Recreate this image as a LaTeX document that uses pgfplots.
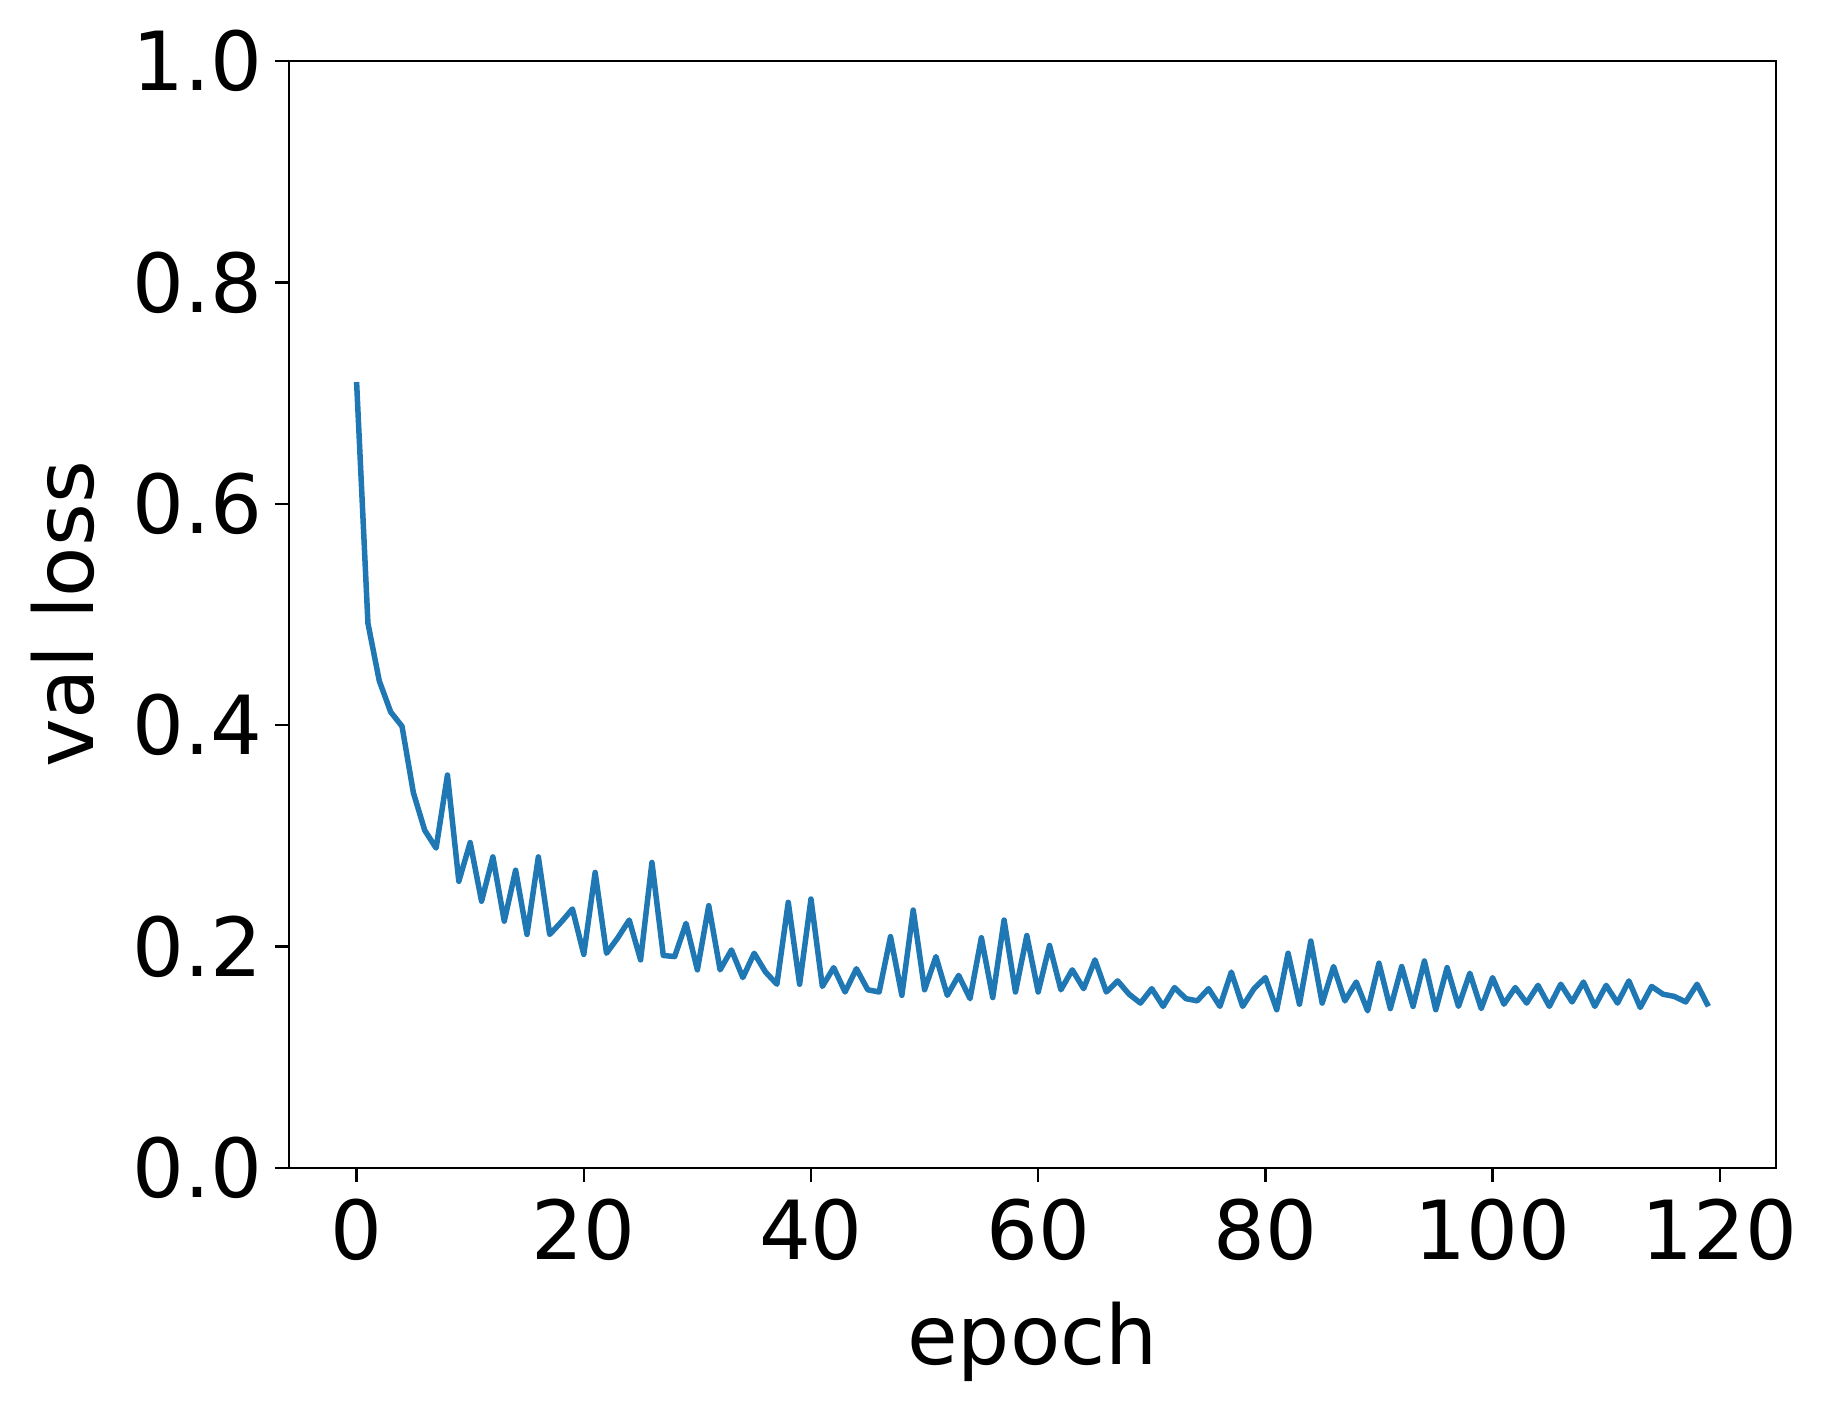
\documentclass[border=0pt]{standalone}
\usepackage{fontspec}
\setmainfont{DejaVu Sans}
\usepackage{pgfplots}
\pgfplotsset{compat=1.18}
\definecolor{tabblue}{HTML}{1F77B4}
\begin{document}
\begin{tikzpicture}
\useasboundingbox (-28.9mm,-24mm) rectangle (154.1mm,116.8mm);
\begin{axis}[
  at={(0,0)}, anchor=south west,
  scale only axis, width=148.7mm, height=110.7mm,
  xmin=-5.95, xmax=124.95, ymin=0, ymax=1,
  xtick={0,20,...,120}, ytick={0,0.2,...,1.0},
  /pgf/number format/assume math mode=true,
  yticklabel style={/pgf/number format/fixed,/pgf/number format/fixed zerofill,/pgf/number format/precision=1},
  xticklabel style={yshift=-0.5mm},
  scaled y ticks=false,
  tick align=outside, major tick length=1.4mm,
  xtick pos=bottom, ytick pos=left,
  tick style={line width=0.25mm, black},
  axis line style={line width=0.25mm},
  ticklabel style={font=\fontsize{23.2pt}{27pt}\selectfont},
  label style={font=\fontsize{23.4pt}{27pt}\selectfont},
  xlabel={epoch}, ylabel={val loss},
  xlabel style={at={(axis description cs:0.5,0)}, anchor=north, inner sep=0pt, yshift=-13.3mm},
  ylabel style={at={([xshift=-25.9mm]axis description cs:0,0.5)}, anchor=north, inner sep=0pt},
]
\addplot[color=tabblue, line width=0.55mm, line join=round] coordinates {
(0,0.710)(1,0.492)(2,0.440)(3,0.412)(4,0.399)(5,0.339)(6,0.305)(7,0.289)(8,0.355)(9,0.259)
(10,0.294)(11,0.241)(12,0.281)(13,0.223)(14,0.269)(15,0.211)(16,0.281)(17,0.211)(18,0.222)(19,0.234)
(20,0.193)(21,0.267)(22,0.194)(23,0.208)(24,0.224)(25,0.188)(26,0.276)(27,0.192)(28,0.191)(29,0.221)
(30,0.179)(31,0.237)(32,0.179)(33,0.197)(34,0.172)(35,0.194)(36,0.177)(37,0.166)(38,0.240)(39,0.166)
(40,0.243)(41,0.164)(42,0.181)(43,0.159)(44,0.180)(45,0.161)(46,0.159)(47,0.209)(48,0.156)(49,0.233)
(50,0.161)(51,0.191)(52,0.156)(53,0.174)(54,0.153)(55,0.208)(56,0.154)(57,0.224)(58,0.159)(59,0.210)
(60,0.159)(61,0.201)(62,0.161)(63,0.179)(64,0.162)(65,0.188)(66,0.159)(67,0.169)(68,0.157)(69,0.149)
(70,0.162)(71,0.146)(72,0.163)(73,0.153)(74,0.151)(75,0.162)(76,0.146)(77,0.177)(78,0.146)(79,0.162)
(80,0.172)(81,0.143)(82,0.194)(83,0.148)(84,0.205)(85,0.149)(86,0.182)(87,0.151)(88,0.168)(89,0.142)
(90,0.185)(91,0.144)(92,0.182)(93,0.146)(94,0.187)(95,0.143)(96,0.181)(97,0.146)(98,0.176)(99,0.144)
(100,0.172)(101,0.148)(102,0.163)(103,0.149)(104,0.165)(105,0.146)(106,0.166)(107,0.150)(108,0.168)(109,0.146)
(110,0.165)(111,0.149)(112,0.169)(113,0.145)(114,0.164)(115,0.157)(116,0.155)(117,0.150)(118,0.166)(119,0.146)
};
\end{axis}
\end{tikzpicture}
\end{document}
